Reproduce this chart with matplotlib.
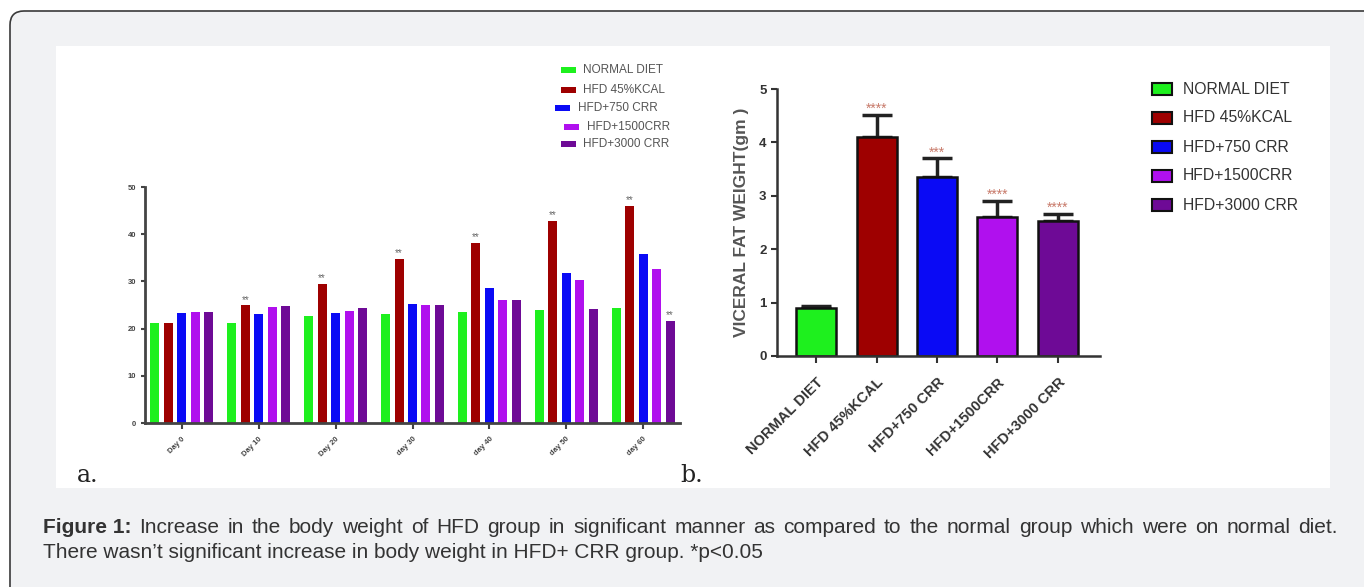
import matplotlib.pyplot as plt
import numpy as np
from matplotlib.patches import FancyBboxPatch, Rectangle

# données
groupes = ["NORMAL DIET", "HFD 45%KCAL", "HFD+750 CRR", "HFD+1500CRR", "HFD+3000 CRR"]
couleurs = ["#1ef01e", "#9e0000", "#0a0af5", "#b010ee", "#6e0a96"]
jours = ["Day 0", "Day 10", "Day 20", "day 30", "day 40", "day 50", "day 60"]

poids_normal = [21.1, 21.1, 22.6, 23.0, 23.5, 24.0, 24.4]
poids_hfd45 = [21.1, 24.9, 29.4, 34.7, 38.2, 42.8, 46.0]
poids_crr750 = [23.2, 23.0, 23.2, 25.3, 28.6, 31.7, 35.8]
poids_crr1500 = [23.5, 24.6, 23.8, 25.0, 26.1, 30.2, 32.6]
poids_crr3000 = [23.5, 24.8, 24.4, 25.1, 26.1, 24.2, 21.6]

graisse = [0.89, 4.11, 3.36, 2.61, 2.52]
graisse_err = [0.05, 0.40, 0.34, 0.30, 0.14]
graisse_etoiles = ["", "****", "***", "****", "****"]

legende_l1 = ("Increase in the body weight of HFD group in significant manner as compared to the "
              "normal group which were on normal diet.")
legende_l2 = "There wasn\u2019t significant increase in body weight in HFD+ CRR group. *p<0.05"

W, H = 1364, 587
fig = plt.figure(figsize=(W / 100, H / 100), dpi=100)
plt.rcParams['font.family'] = ['Liberation Sans', 'DejaVu Sans']


def axes_px(x0, y0, x1, y1):
    return fig.add_axes([x0 / W, 1 - y1 / H, (x1 - x0) / W, (y1 - y0) / H])


# fond : cadre arrondi + panneau blanc
fond = fig.add_axes([0, 0, 1, 1], zorder=-10)
fond.set_xlim(0, W)
fond.set_ylim(H, 0)
fond.axis("off")
fond.add_patch(FancyBboxPatch((10, 11), W + 40, H + 40, boxstyle="round,pad=0,rounding_size=14",
                              fc="#f1f2f4", ec="#3a3a3a", lw=1.2))
fond.add_patch(Rectangle((56, 46), 1274, 442, fc="white", ec="none"))
fond.text(77, 482, "a.", family="DejaVu Serif", fontsize=17, color="#222")
fond.text(680, 482, "b.", family="DejaVu Serif", fontsize=17, color="#222")

# légende (a)
leg_a = [(561, 70, 583), (561, 90, 583), (555, 108, 578), (564, 127, 587), (561, 144, 583)]
for (px, py, tx), nom, c in zip(leg_a, groupes, couleurs):
    fond.add_patch(Rectangle((px, py - 3), 15, 6, fc=c, ec="none"))
    fond.text(tx, py, nom, fontsize=8.5, color="#555", va="center")

# légende (b)
for i, (nom, c) in enumerate(zip(groupes, couleurs)):
    y = 89 + i * 29
    fond.add_patch(Rectangle((1152, y - 6), 20, 12, fc=c, ec="#111", lw=1.5))
    fond.text(1183, y, nom, fontsize=11.3, color="#333", va="center")

# légende du bas, première ligne justifiée
renderer = fig.canvas.get_renderer()
mots = [("Figure 1:", "bold")] + [(m, "normal") for m in legende_l1.split()]
textes = [fond.text(0, 533, m, fontsize=15, fontweight=fw, color="#333") for m, fw in mots]
largeurs = [t.get_window_extent(renderer).width for t in textes]
gauche, droite = 43, 1338
espace = (droite - gauche - sum(largeurs)) / (len(textes) - 1)
pos = gauche
for t, w in zip(textes, largeurs):
    t.set_x(pos)
    pos += w + espace
fond.text(43, 558, legende_l2, fontsize=15, color="#333")

# (a) poids corporel
ax = axes_px(145, 187, 680, 423)
series = [poids_normal, poids_hfd45, poids_crr750, poids_crr1500, poids_crr3000]
x = np.arange(len(jours))
pas = 0.175
for i, (vals, c) in enumerate(zip(series, couleurs)):
    ax.bar(x + (i - 2) * pas, vals, width=0.117, color=c)
for j in range(1, len(jours)):
    ax.text(x[j] - pas, poids_hfd45[j] + 0.6, "**", ha="center", fontsize=7, color="#666")
ax.text(x[6] + 2 * pas, poids_crr3000[6] + 0.6, "**", ha="center", fontsize=7, color="#666")
ax.set_xlim(-0.48, 6.48)
ax.set_ylim(0, 50)
ax.set_yticks(range(0, 51, 10))
ax.set_xticks(x)
ax.set_xticklabels(jours, rotation=45, ha="right", rotation_mode="anchor", fontsize=5.5,
                   fontweight="bold", color="#444")
for lab in ax.get_yticklabels():
    lab.set_fontweight("bold")
ax.tick_params(axis="y", labelsize=5.5, labelcolor="#444", length=3, width=1.5, color="#444")
ax.tick_params(axis="x", length=4, width=1.5, color="#444", pad=5)
for s in ["top", "right"]:
    ax.spines[s].set_visible(False)
for s in ["left", "bottom"]:
    ax.spines[s].set_linewidth(2)
    ax.spines[s].set_color("#444")
ax.set_facecolor("none")

# (b) graisse viscérale
ax2 = axes_px(777, 89, 1100, 356)
xb = np.arange(len(groupes))
ax2.bar(xb, graisse, width=0.66, color=couleurs, edgecolor="#111", linewidth=1.8, zorder=2)
ax2.errorbar(xb, graisse, yerr=[np.zeros(len(graisse)), graisse_err], fmt="none",
             ecolor="#222", elinewidth=2.5, capsize=11, capthick=2.5, zorder=1)
for xi, v, e, et in zip(xb, graisse, graisse_err, graisse_etoiles):
    ax2.text(xi, v + e - 0.02, et, ha="center", va="bottom", fontsize=10, color="#c87a6a")
ax2.set_xlim(-0.65, 4.7)
ax2.set_ylim(0, 5)
ax2.set_yticks(range(6))
ax2.set_xticks(xb)
ax2.set_xticklabels(groupes, rotation=45, ha="right", rotation_mode="anchor",
                    fontsize=10.5, fontweight="bold", color="#333")
for lab in ax2.get_yticklabels():
    lab.set_fontweight("bold")
ax2.tick_params(axis="y", labelsize=9.5, labelcolor="#333", length=4, width=1.5, color="#333")
ax2.tick_params(axis="x", length=5, width=1.5, color="#333", pad=9)
ax2.set_ylabel("VICERAL FAT WEIGHT(gm )", fontsize=12.5, fontweight="bold", color="#555", labelpad=7)
for s in ["top", "right"]:
    ax2.spines[s].set_visible(False)
for s in ["left", "bottom"]:
    ax2.spines[s].set_linewidth(1.8)
    ax2.spines[s].set_color("#333")
ax2.set_facecolor("none")

fig.savefig("out.png", dpi=100, facecolor="white")
